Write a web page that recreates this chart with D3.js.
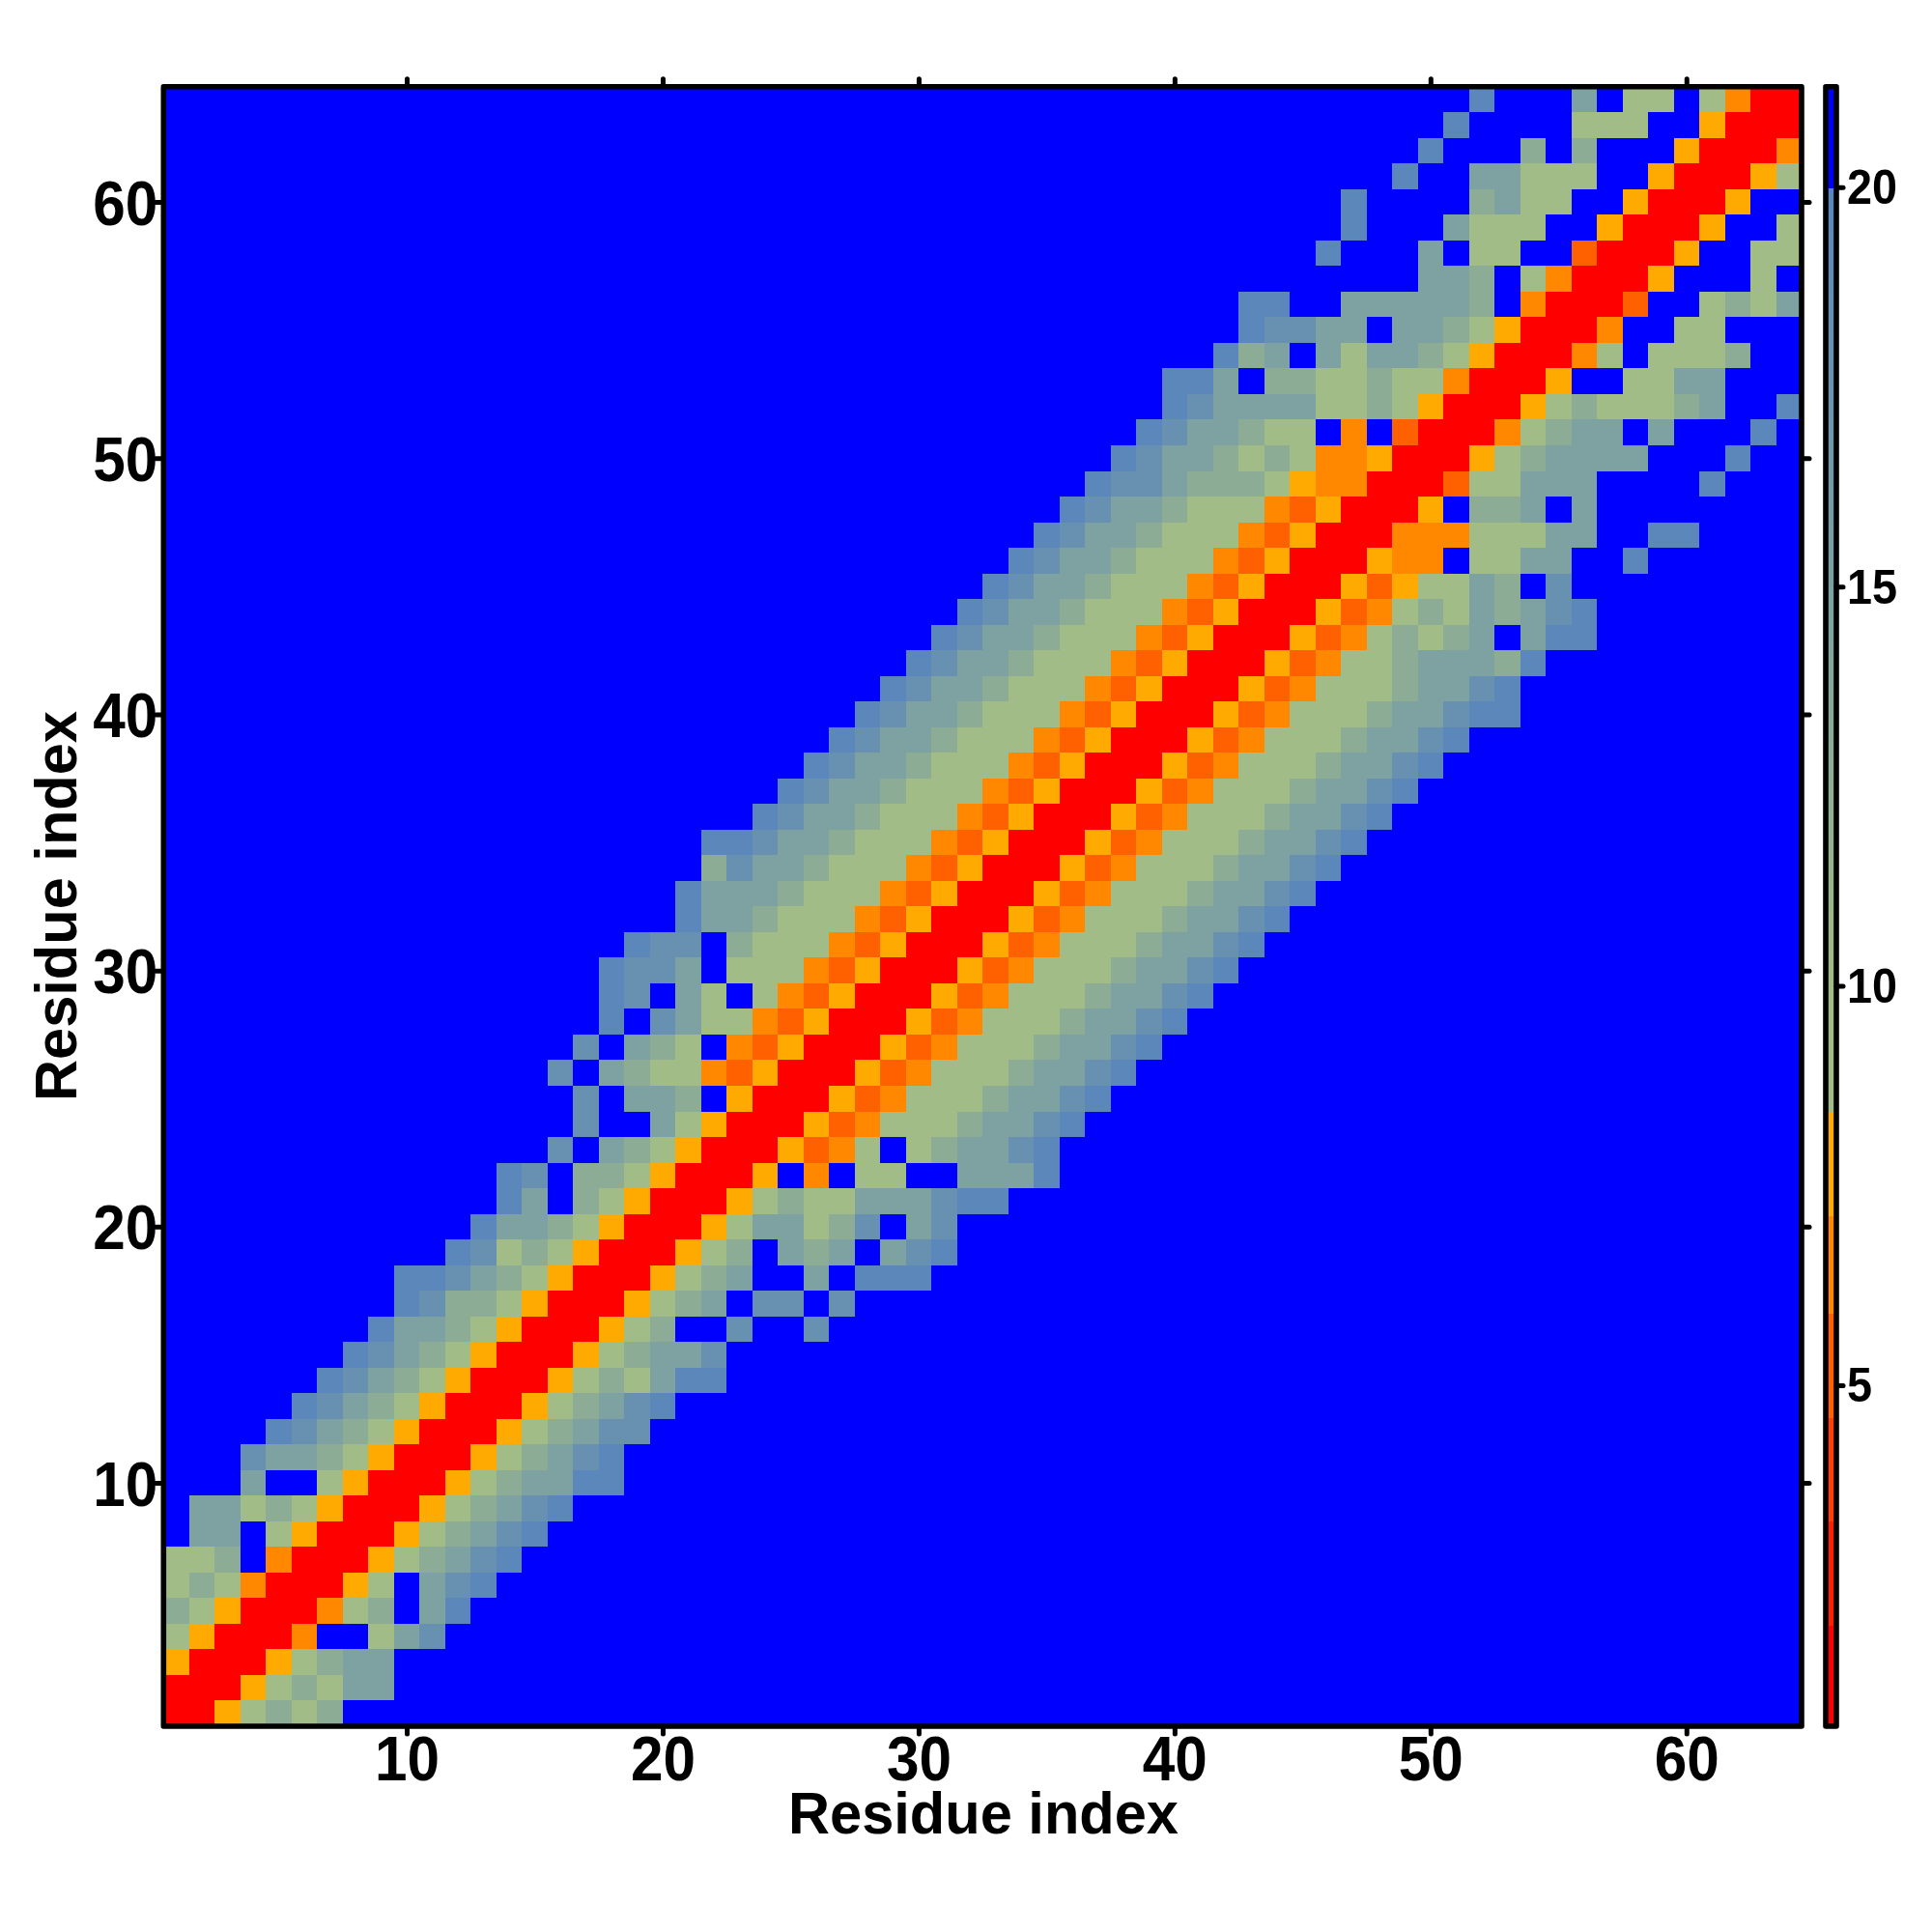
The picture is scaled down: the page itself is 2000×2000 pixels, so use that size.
<!DOCTYPE html>
<html>
<head>
<meta charset="utf-8">
<script src="https://cdn.jsdelivr.net/npm/d3@7/dist/d3.min.js"></script>
<style>
html,body{margin:0;padding:0;background:#fff}
svg{display:block}
text{font-family:"Liberation Sans",Arial,sans-serif;font-weight:bold;fill:#000}
</style>
</head>
<body>
<svg id="chart" width="2000" height="2000"></svg>
<script>
// Residue numbering and axis ticks
const residueCount = 64;
const axisTicks = [10, 20, 30, 40, 50, 60];
const colorbarTicks = [5, 10, 15, 20];
const axisTitle = "Residue index";

// Distance levels: one code per cell colour
const levelCodes = ["R", "D", "O", "A", "g", "h", "t", "u", "s", "B"];
const levelValues = [1.4, 5.2, 6.5, 7.8, 10, 13, 15, 18, 19.8, 21];

// First residue column of the coloured band in each row (row 1 first)
const bandStart = [
  1,1,1,1,1,1,1,2,2,4,4,5,6,7,8,9,
  10,10,12,13,14,14,16,17,17,16,17,18,18,18,19,21,
  21,22,22,24,25,26,27,28,29,30,31,32,33,34,35,36,
  37,38,39,40,40,42,43,43,50,46,47,47,49,50,51,52
];

// Cell levels along the band in each row; everything outside it is level B
const bandCells = [
  "RRAghgh",
  "RRRAghgtt",
  "ARRRAghtt",
  "gARRROBBgtu",
  "hgARRROghBts",
  "ghgORRRAgBtus",
  "gghBORRRAghtus",
  "ttBgARRRAghtus",
  "ttghgARRRAghtus",
  "tBBgARRRAghttss",
  "utthgARRRAghtus",
  "suthgARRRAghtuu",
  "suthgARRRAghtus",
  "suthgARRRAghgtss",
  "suthgARRRAghttu",
  "stthgARRRAghBBuBBu",
  "suhhgARRRAghtBuuBu",
  "ssuthgARRRAghtBBtBsss",
  "sughgARRRAghBthtBtus",
  "stthgARRRAgttghuBtu",
  "stBhgARRRAghggtttuss",
  "suBhhgARRRABOBggBBttts",
  "uBthgARRRADOgBghttus",
  "uBBtgARRRADOggghttus",
  "uBtthBARRRADOggghttus",
  "uBthggODARRRADOggghttus",
  "uBthgBODARRRADOggghttus",
  "sButggODARRRADOggghttus",
  "suBtgBgODARRRADOggghttus",
  "suutBgggODARRRADOggghttus",
  "suuBhgggODARRRADOggghttus",
  "stthgggODARRRADOggghttus",
  "sttthgggODARRRADOggghttus",
  "hutthgggODARRRADOggghttus",
  "ssutthgggODARRRADOggghttus",
  "sutthgggODARRRADOggghttus",
  "sutthgggODARRRADOggghttus",
  "sutthgggODARRRADOggghttus",
  "sutthgggODARRRADOggghttus",
  "sutthgggODARRRADOggghttuss",
  "sutthgggODARRRADOggghttus",
  "sutthgggODARRRADOgghttths",
  "sutthgggODARRRADOghghtBtss",
  "sutthgggODARRRADOghgthtus",
  "sutthgggODARRRADAggthBu",
  "sutthgggODARRRAOOBggttBBs",
  "sutthgggODARRROOOgggttBBss",
  "sutthgggODARRRABhhtBt",
  "suuthhhgAOORRRDggtttBBBBs",
  "sutthghgOOARRRAghttttBBBs",
  "sutthggBOBDRRROghttBtBBBs",
  "suttttgghgARRRAghggghtBBs",
  "sstBhhgghggORRRABBggtt",
  "shtBtgtthgARRROgBgggh",
  "suuttBtthgARRROBBgg",
  "ssBBttttthBORRRDBBghgt",
  "tthBgORRRABBBgB",
  "sBBBtBggBBDRRRABBgg",
  "sBBBtgggBBARRRABBg",
  "sBBBBhtggBBARRRA",
  "sBBttgggBBARRRAg",
  "sBBBhBhBBBARRRO",
  "sBBBBgggBBARRR",
  "sBBBtBggBgORR"
];

// Colour key
const stepBreaks = [2.0, 3.3, 4.6, 5.9, 7.14];
const stepColors = ["#ff0000", "#ff2000", "#ff4000", "#ff6000", "#ff8800", "#ffaa00"];
const rampDomain = [10, 20];
const rampColors = ["#a1bc86", "#5a86bc"];
const stepTop = 8.43;
const rampTop = 20;
const overColor = "#0000ff";
const valueDomain = [0.73, 21.26];

const stepScale = d3.scaleThreshold().domain(stepBreaks).range(stepColors);
const rampScale = d3.scaleLinear().domain(rampDomain).range(rampColors)
  .interpolate(d3.interpolateRgb).clamp(true);
const colorOf = v => v < stepTop ? stepScale(v) : (v >= rampTop ? overColor : rampScale(v));

const levelValue = new Map(levelCodes.map((c, i) => [c, levelValues[i]]));
const backgroundValue = levelValue.get("B");
const cells = [];
bandCells.forEach((row, r) => {
  row.split("").forEach((code, k) => {
    cells.push({col: bandStart[r] + k, row: r + 1, value: levelValue.get(code)});
  });
});

const plot = {left: 169.3, right: 1865, top: 89.7, bottom: 1787};
const x = d3.scaleLinear().domain([0.5, residueCount + 0.5]).range([plot.left, plot.right]);
const y = d3.scaleLinear().domain([0.5, residueCount + 0.5]).range([plot.bottom, plot.top]);
const bar = {left: 1890, right: 1901};
const yBar = d3.scaleLinear().domain(valueDomain).range([plot.bottom, plot.top]);

const svg = d3.select("#chart");
svg.append("rect").attr("width", 2000).attr("height", 2000).attr("fill", "#fff");

// Heat map
svg.append("rect")
  .attr("x", plot.left).attr("y", plot.top)
  .attr("width", plot.right - plot.left).attr("height", plot.bottom - plot.top)
  .attr("fill", colorOf(backgroundValue));
svg.append("g").attr("shape-rendering", "crispEdges")
  .selectAll("rect").data(cells).join("rect")
  .attr("x", d => x(d.col - 0.5))
  .attr("y", d => y(d.row + 0.5))
  .attr("width", d => x(d.col + 0.5) - x(d.col - 0.5))
  .attr("height", d => y(d.row - 0.5) - y(d.row + 0.5))
  .attr("fill", d => colorOf(d.value));

// Colour bar drawn from the same colour function
const barStep = (valueDomain[1] - valueDomain[0]) / 600;
svg.append("g").attr("shape-rendering", "crispEdges")
  .selectAll("rect").data(d3.range(valueDomain[0], valueDomain[1], barStep)).join("rect")
  .attr("x", bar.left).attr("width", bar.right - bar.left)
  .attr("y", d => yBar(d + barStep))
  .attr("height", d => yBar(d) - yBar(d + barStep) + 0.6)
  .attr("fill", d => colorOf(d + barStep / 2));

function frame(x0, x1) {
  svg.append("rect")
    .attr("x", x0).attr("y", plot.top)
    .attr("width", x1 - x0).attr("height", plot.bottom - plot.top)
    .attr("fill", "none").attr("stroke", "#000").attr("stroke-width", 5.6)
    .attr("stroke-linejoin", "round");
}
frame(plot.left, plot.right);
frame(bar.left, bar.right);

function styleAxis(g) {
  g.select(".domain").remove();
  g.selectAll(".tick line").attr("stroke", "#000").attr("stroke-width", 5).attr("stroke-linecap", "round");
}

const tickText = (g, fs, perDigit) => g.selectAll(".tick text")
  .attr("font-size", fs)
  .attr("textLength", d => String(d).length * perDigit)
  .attr("lengthAdjust", "spacingAndGlyphs");

svg.append("g").attr("transform", `translate(0,${plot.bottom})`)
  .call(d3.axisBottom(x).tickValues(axisTicks).tickSize(8).tickSizeOuter(0))
  .call(styleAxis)
  .call(g => tickText(g, 64, 33.5).attr("y", 56).attr("dy", 0).attr("text-anchor", "middle"));

svg.append("g").attr("transform", `translate(${plot.left},0)`)
  .call(d3.axisLeft(y).tickValues(axisTicks).tickSize(8).tickSizeOuter(0))
  .call(styleAxis)
  .call(g => tickText(g, 64, 33.5).attr("x", -6).attr("dy", 23).attr("text-anchor", "end"));

svg.append("g").attr("transform", `translate(0,${plot.top})`)
  .call(d3.axisTop(x).tickValues(axisTicks).tickSize(8).tickSizeOuter(0).tickFormat(""))
  .call(styleAxis);

svg.append("g").attr("transform", `translate(${plot.right},0)`)
  .call(d3.axisRight(y).tickValues(axisTicks).tickSize(8).tickSizeOuter(0).tickFormat(""))
  .call(styleAxis);

svg.append("g").attr("transform", `translate(${bar.right},0)`)
  .call(d3.axisRight(yBar).tickValues(colorbarTicks).tickSize(7).tickSizeOuter(0))
  .call(styleAxis)
  .call(g => tickText(g, 50, 26).attr("x", 11).attr("dy", 17).attr("text-anchor", "start"));

// Axis titles
svg.append("text")
  .attr("x", 1018).attr("y", 1898)
  .attr("text-anchor", "middle").attr("font-size", 61)
  .attr("textLength", 404).attr("lengthAdjust", "spacingAndGlyphs")
  .text(axisTitle);
svg.append("text")
  .attr("transform", "translate(79,938) rotate(-90)")
  .attr("text-anchor", "middle").attr("font-size", 61)
  .attr("textLength", 404).attr("lengthAdjust", "spacingAndGlyphs")
  .text(axisTitle);
</script>
</body>
</html>
